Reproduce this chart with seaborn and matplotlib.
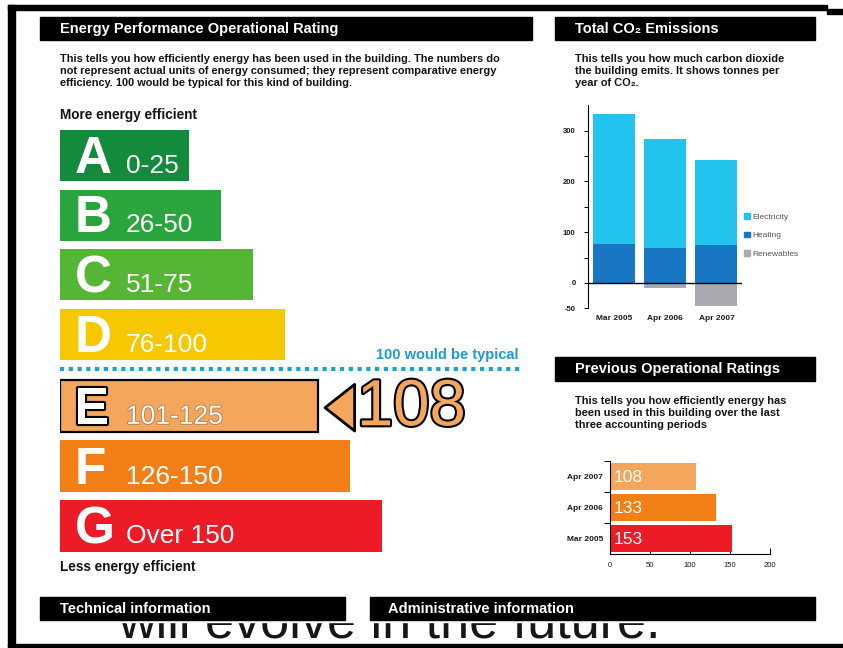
import matplotlib
matplotlib.use("Agg")
import matplotlib.pyplot as plt
import matplotlib.patheffects as pe
from matplotlib.patches import Rectangle, Polygon, Patch
import pandas as pd
import seaborn as sns

# ---- Operational rating scale ----
bands = ["A", "B", "C", "D", "E", "F", "G"]
band_ranges = ["0-25", "26-50", "51-75", "76-100", "101-125", "126-150", "Over 150"]
band_length = [4, 5, 6, 7, 8, 9, 10]
band_colors = ["#148b3c", "#2aa43c", "#55b534", "#f7c800", "#f4a65c", "#f27e16", "#ec1b25"]
typical_rating = 100

# ---- Total CO2 emissions, tonnes per year ----
periods_co2 = ["Mar 2005", "Apr 2006", "Apr 2007"]
electricity = [256, 215, 168]
heating = [77, 69, 75]
renewables = [0, -10, -45]
co2_labels = ["Electricity", "Heating", "Renewables"]
co2_colors = ["#22c3ec", "#1877c4", "#a9a9b1"]

# ---- Previous operational ratings ----
periods_prev = ["Apr 2007", "Apr 2006", "Mar 2005"]
prev_ratings = [108, 133, 153]
current_rating = prev_ratings[0]


def band_index(rating):
    return min(len(bands) - 1, max(0, (rating - 1) // 25))


sns.set_theme(style="white")
plt.rcParams["font.family"] = ["Liberation Sans", "DejaVu Sans"]
plt.rcParams["axes.unicode_minus"] = False

W, H = 843, 648
fig = plt.figure(figsize=(W / 100, H / 100), dpi=100)
fig.patch.set_facecolor("white")


def px_axes(x0, y0, x1, y1):
    ax = fig.add_axes([x0 / W, 1 - y1 / H, (x1 - x0) / W, (y1 - y0) / H])
    ax.set_facecolor("none")
    return ax


base = px_axes(0, 0, W, H)
base.set_xlim(0, W)
base.set_ylim(H, 0)
base.axis("off")

# slide caption peeking out below the certificate panel
caption = base.text(118, 637, "will evolve in the future.", fontsize=37.5, color="#161616",
                    ha="left", va="baseline", zorder=1)
caption.set_clip_path(Rectangle((15, 622), 828, 22, transform=base.transData))
base.add_patch(Rectangle((15, 10), 812, 612, color="white", zorder=2))

# frame
for x, y, w, h in [(8, 5, 819, 5), (827, 9, 16, 5), (8, 5, 7, 642), (8, 644, 835, 3)]:
    base.add_patch(Rectangle((x, y), w, h, color="black", zorder=3))


def header(x0, y0, x1, y1, label, tx):
    base.add_patch(Rectangle((x0, y0), x1 - x0, y1 - y0, color="black", zorder=3))
    base.text(tx, (y0 + y1) / 2 + 0.5, label, color="white", fontsize=10.5,
              fontweight="bold", va="center", ha="left", zorder=4)


header(40, 17, 532, 40, "Energy Performance Operational Rating", 60)
header(555, 17, 815, 40, "Total CO\u2082 Emissions", 575)
header(555, 357, 815, 381, "Previous Operational Ratings", 575)
header(40, 597, 345, 620, "Technical information", 60)
header(370, 597, 815, 620, "Administrative information", 388)

body_kw = dict(fontsize=7.9, fontweight="bold", color="#141414", va="center", ha="left", zorder=4)
left_text = [
    "This tells you how efficiently energy has been used in the building. The numbers do",
    "not represent actual units of energy consumed; they represent comparative energy",
    "efficiency. 100 would be typical for this kind of building.",
]
co2_text = [
    "This tells you how much carbon dioxide",
    "the building emits. It shows tonnes per",
    "year of CO\u2082.",
]
prev_text = [
    "This tells you how efficiently energy has",
    "been used in this building over the last",
    "three accounting periods",
]
for k, line in enumerate(left_text):
    base.text(60, 59 + 12 * k, line, **body_kw)
for k, line in enumerate(co2_text):
    base.text(575, 59 + 12 * k, line, **body_kw)
for k, line in enumerate(prev_text):
    base.text(575, 401 + 12 * k, line, **body_kw)

base.text(60, 115, "More energy efficient", fontsize=9.8, fontweight="bold",
          color="#141414", va="center", zorder=4)
base.text(60, 567, "Less energy efficient", fontsize=9.8, fontweight="bold",
          color="#141414", va="center", zorder=4)

# typical-rating separator
base.plot([60, 522], [369, 369], color="#1e9fd8", lw=3, linestyle=(0, (1, 1.1)),
          dash_capstyle="butt", zorder=4)
base.text(518, 355, f"{typical_rating} would be typical", color="#1e9ad6", fontsize=10.5,
          fontweight="bold", ha="right", va="center", zorder=4)

# ---- rating scale bars (A-D above the typical line, E-G below) ----
unit = 32.2
df_bands = pd.DataFrame({"band": bands, "length": band_length,
                         "range": band_ranges, "color": band_colors})
ax_up = px_axes(60, 125.6, 60 + 15 * unit, 364.4)
ax_lo = px_axes(60, 376.6, 60 + 15 * unit, 555.9)
for ax, part, bw in [(ax_up, df_bands.iloc[:4], 0.855), (ax_lo, df_bands.iloc[4:], 0.87)]:
    sns.barplot(data=part, x="length", y="band", hue="band", palette=list(part["color"]),
                orient="h", width=bw, saturation=1, legend=False, errorbar=None,
                linewidth=0, ax=ax)
    ax.set_xlim(0, 15)
    ax.set_ylim(len(part) - 0.5, -0.5)
    ax.axis("off")
    for i, (b, r) in enumerate(zip(part["band"], part["range"])):
        current = b == bands[band_index(current_rating)]
        letter_fx = [pe.withStroke(linewidth=3, foreground="black")] if current else None
        range_fx = [pe.withStroke(linewidth=1.2, foreground="#b87a45")] if current else None
        ax.text(0.45, i + 0.29, b, fontsize=37, fontweight="bold", color="white",
                va="baseline", ha="left", path_effects=letter_fx)
        ax.text(2.05, i + 0.29, r, fontsize=19, color="white", va="baseline", ha="left",
                path_effects=range_fx)

cur = band_index(current_rating) - 4
for p in ax_lo.patches:
    if abs(p.get_y() + p.get_height() / 2 - cur) < 0.1:
        p.set_edgecolor("black")
        p.set_linewidth(1.6)

# current rating pointer
ax_lo.add_patch(Polygon([(8.23, cur + 0.02), (9.15, cur - 0.37), (9.15, cur + 0.41)],
                        closed=True, facecolor=band_colors[band_index(current_rating)],
                        edgecolor="black", lw=2, joinstyle="round", clip_on=False))
ax_lo.text(9.22, cur + 0.03, str(current_rating), fontsize=47,
           color=band_colors[band_index(current_rating)], va="center", ha="left",
           path_effects=[pe.withStroke(linewidth=3, foreground="black")])

# ---- CO2 stacked bars ----
df_co2 = pd.DataFrame({"period": periods_co2, "electricity": electricity,
                       "heating": heating, "renewables": renewables})
df_co2["total"] = df_co2["electricity"] + df_co2["heating"]
ax_co2 = px_axes(588, 105.2, 742, 308.3)
for col, c in [("total", co2_colors[0]), ("heating", co2_colors[1]), ("renewables", co2_colors[2])]:
    sns.barplot(data=df_co2, x="period", y=col, color=c, width=0.82, saturation=1,
                errorbar=None, linewidth=0, ax=ax_co2)
ax_co2.set_xlim(-0.51, 2.5)
ax_co2.set_ylim(-50, 350)
ax_co2.axhline(0, color="black", lw=1)
ax_co2.set_yticks([-50, 0, 100, 200, 300])
ax_co2.set_yticks([50, 150, 250], minor=True)
ax_co2.set_xlabel("")
ax_co2.set_ylabel("")
for s in ["top", "right", "bottom"]:
    ax_co2.spines[s].set_visible(False)
ax_co2.spines["left"].set_color("black")
ax_co2.spines["left"].set_linewidth(0.8)
ax_co2.tick_params(axis="y", which="both", left=True, direction="out", length=3,
                   width=0.7, color="black", labelsize=5.5, pad=6)
ax_co2.tick_params(axis="x", length=0, labelsize=6, pad=5)
for t in ax_co2.get_yticklabels() + ax_co2.get_xticklabels():
    t.set_fontweight("bold")
    t.set_color("#1a1a1a")
ax_co2.legend(handles=[Patch(color=c, label=l) for c, l in zip(co2_colors, co2_labels)],
              loc="center left", bbox_to_anchor=(744 / W, 1 - 235.5 / H),
              bbox_transform=fig.transFigure, frameon=False, fontsize=6,
              handlelength=0.7, handleheight=0.7, handletextpad=0.35,
              labelspacing=1.25, borderpad=0, borderaxespad=0, labelcolor="#555555")

# ---- previous ratings ----
df_prev = pd.DataFrame({"period": periods_prev, "rating": prev_ratings})
prev_colors = [band_colors[band_index(r)] for r in prev_ratings]
ax_prev = px_axes(610, 461, 770, 554)
sns.barplot(data=df_prev, x="rating", y="period", hue="period", palette=prev_colors,
            orient="h", width=0.9, saturation=1, legend=False, errorbar=None,
            linewidth=0, ax=ax_prev)
ax_prev.set_xlim(0, 200)
ax_prev.set_ylim(2.5, -0.5)
ax_prev.set_xticks([0, 50, 100, 150, 200])
ax_prev.set_yticks([-0.5, 0.5, 1.5], minor=True)
ax_prev.set_xlabel("")
ax_prev.set_ylabel("")
for s in ["top", "right"]:
    ax_prev.spines[s].set_visible(False)
for s in ["left", "bottom"]:
    ax_prev.spines[s].set_color("black")
    ax_prev.spines[s].set_linewidth(0.8)
ax_prev.tick_params(axis="x", bottom=True, direction="in", length=4, width=0.7,
                    color="black", labelsize=5.5, pad=6)
ax_prev.tick_params(axis="y", which="major", length=0, labelsize=6, pad=5)
ax_prev.tick_params(axis="y", which="minor", left=True, direction="out", length=4,
                    width=0.7, color="black")
for t in ax_prev.get_yticklabels() + ax_prev.get_xticklabels():
    t.set_color("#1a1a1a")
for t in ax_prev.get_yticklabels():
    t.set_fontweight("bold")
for i, r in enumerate(prev_ratings):
    ax_prev.text(5, i + 0.04, str(r), color="white", fontsize=12.5, va="center", ha="left")

fig.savefig("out.png", dpi=100)
